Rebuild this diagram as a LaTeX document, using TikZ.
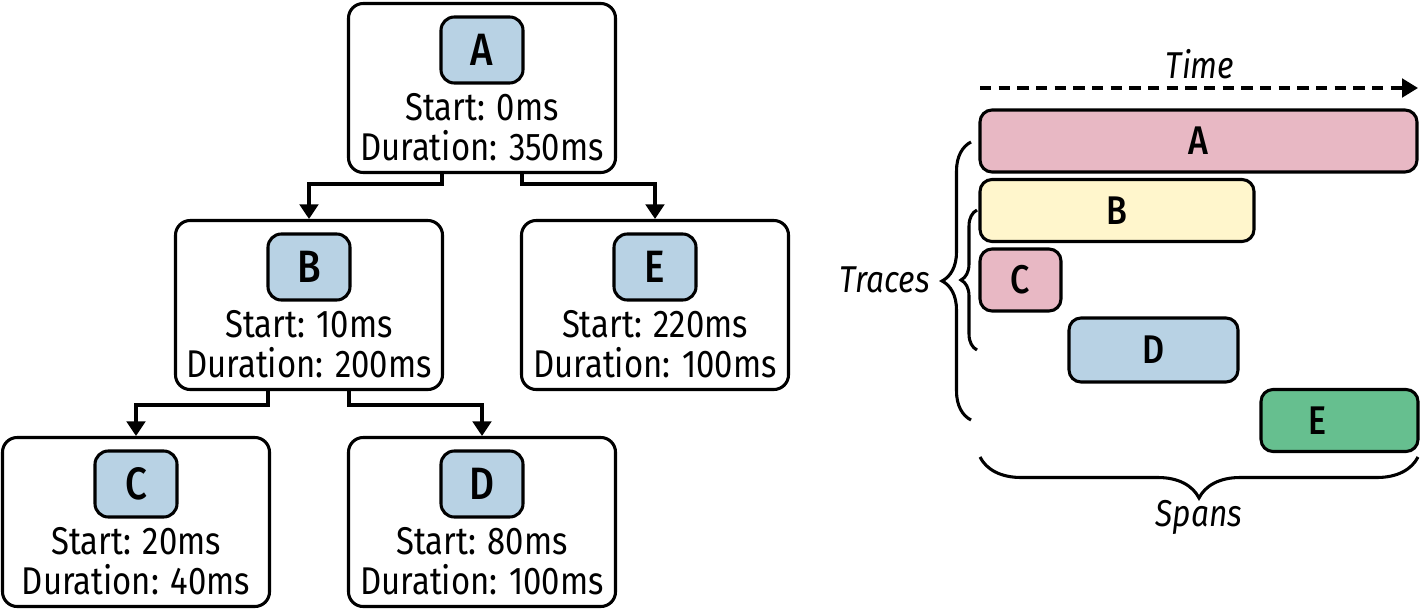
\documentclass[tikz,border=0pt]{standalone}
\usepackage{fontspec}
\setmainfont[FakeStretch=0.85]{Fira Sans}
\newfontfamily\labfont[FakeStretch=0.85]{Fira Sans Medium}
\usetikzlibrary{arrows.meta,decorations.pathreplacing}
\definecolor{lblue}{HTML}{B8D2E4}
\definecolor{lpink}{HTML}{E8B8C4}
\definecolor{lyellow}{HTML}{FFF6CC}
\definecolor{lgreen}{HTML}{66BF8F}
\def\u{0.75pt}
\tikzset{
  outer/.style={draw, line width=2.3pt, rounded corners=11pt, minimum width=267*\u, minimum height=169*\u, inner sep=0pt},
  lab/.style={draw, line width=2.3pt, rounded corners=10pt, fill=lblue, minimum width=82*\u, minimum height=66*\u, inner sep=0pt, font=\labfont\fontsize{34}{34}\selectfont},
  info/.style={anchor=base, inner sep=0pt, font=\fontsize{29}{30}\selectfont},
  bar/.style={draw, line width=2.3pt, rounded corners=9pt, minimum height=62*\u, inner sep=0pt, font=\labfont\fontsize{30}{30}\selectfont},
  conn/.style={line width=2.4pt, -{Triangle[length=11pt,width=14pt]}},
  note/.style={inner sep=0pt, font=\itshape\fontsize{28}{30}\selectfont},
  brc/.style={line width=2.3pt, decorate}
}
\begin{document}
\begin{tikzpicture}[x=0.75pt,y=-0.75pt]
\useasboundingbox (0,0) rectangle (1420,610);
% tree
\foreach \n/\x/\y/\s/\d in {A/482/88/0ms/350ms, B/309/305/10ms/200ms, E/655/305/220ms/100ms, C/136/522/20ms/40ms, D/482/522/80ms/100ms}{
  \node[outer] (\n) at (\x,\y) {};
  \node[lab] (\n lab) at (\x,\y-38) {\n};
  \node[info] (\n s) at (\x,\y+32) {Start: \s};
  \node[info] (\n d) at (\x,\y+72) {Duration: \d};
}
\draw[conn] ([xshift=-40*\u]A.south) -- ++(0,10) -| (B.north);
\draw[conn] ([xshift=40*\u]A.south) -- ++(0,10) -| (E.north);
\draw[conn] ([xshift=-41*\u]B.south) -- ++(0,14) -| (C.north);
\draw[conn] ([xshift=40*\u]B.south) -- ++(0,14) -| (D.north);
% timeline
\coordinate (t0) at (980,88);
\coordinate (t1) at (1418,88);
\draw[line width=2.3pt, dash pattern=on 8.5pt off 5.5pt, -{Triangle[length=12pt,width=14pt]}] (t0) -- (t1);
\node[note] (time) at (1200,64) {Time};
\node[bar, fill=lpink, minimum width=437*\u] (sA) at (1198.5,141) {A};
\node[bar, fill=lyellow, minimum width=274*\u] (sB) at (1117,210.5) {B};
\node[bar, fill=lpink, minimum width=81*\u] (sC) at (1020.5,280) {C};
\node[bar, fill=lblue, minimum width=169*\u, minimum height=64*\u] (sD) at (1153.5,350) {D};
\node[bar, fill=lgreen, minimum width=157*\u] (sE) at (1339.5,420.5) {};
\node[inner sep=0pt, font=\labfont\fontsize{30}{30}\selectfont] (sElab) at (1317,420.5) {E};
% braces
\coordinate (b1a) at (971,420);
\coordinate (b1b) at (971,142);
\coordinate (b2a) at (977,350);
\coordinate (b2b) at (977,210);
\coordinate (b3a) at (1418,457);
\coordinate (b3b) at (980,457);
\draw[brc, decoration={brace, amplitude=29*\u}] (b1a) -- (b1b);
\draw[brc, decoration={brace, amplitude=16*\u}] (b2a) -- (b2b);
\draw[brc, decoration={brace, amplitude=41*\u}] (b3a) -- (b3b);
\node[note, anchor=east] (traces) at (930,280) {Traces};
\node[note] (spans) at (1199,517) {Spans};
\end{tikzpicture}
\end{document}
